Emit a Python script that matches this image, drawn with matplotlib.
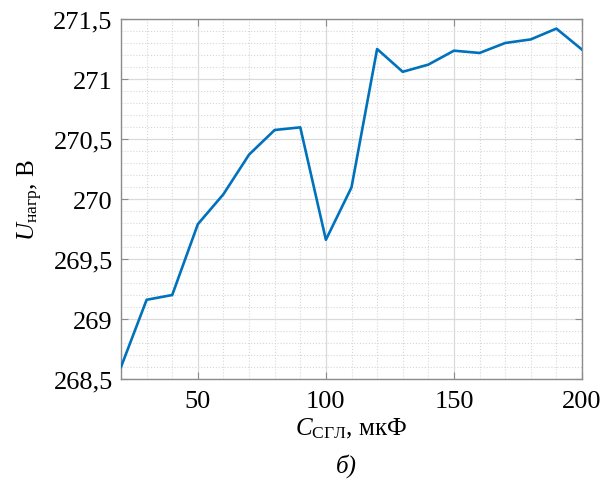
import matplotlib
matplotlib.use("Agg")
import matplotlib.pyplot as plt
from matplotlib.ticker import MultipleLocator, FuncFormatter

plt.rcParams['font.family'] = ['Liberation Serif', 'DejaVu Serif']
plt.rcParams['mathtext.fontset'] = 'custom'
plt.rcParams['mathtext.rm'] = 'Liberation Serif'
plt.rcParams['mathtext.it'] = 'Liberation Serif:italic'

c_vals = [20, 30, 40, 50, 60, 70, 80, 90, 100, 110, 120, 130, 140, 150, 160, 170, 180, 190, 200]
u_vals = [268.60, 269.16, 269.20, 269.79, 270.04, 270.37, 270.575, 270.597, 269.66, 270.097,
          271.25, 271.06, 271.12, 271.236, 271.217, 271.30, 271.33, 271.42, 271.245]
x_ticks = [50, 100, 150, 200]
y_ticks = [268.5, 269, 269.5, 270, 270.5, 271, 271.5]

fig = plt.figure(figsize=(6.09, 5.02), dpi=100)
ax = fig.add_axes([121/609, 1-380/502, 461/609, 360/502])

ax.plot(c_vals, u_vals, color='#0072BD', lw=1.9, zorder=3)
ax.set_xlim(20, 200)
ax.set_ylim(268.5, 271.5)
ax.set_xticks(x_ticks)
ax.set_yticks(y_ticks)
ax.xaxis.set_minor_locator(MultipleLocator(10))
ax.yaxis.set_minor_locator(MultipleLocator(0.1))

def fmt(v, pos):
    return ('%g' % v).replace('.', ',')
ax.yaxis.set_major_formatter(FuncFormatter(fmt))

ax.grid(which='major', color='#dadada', lw=0.9, ls='-')
ax.grid(which='minor', color='#d6d6d6', lw=0.8, ls=':')
ax.set_axisbelow(True)

for s in ax.spines.values():
    s.set_color('#8c8c8c')
    s.set_linewidth(1.0)
ax.tick_params(which='both', direction='in', top=True, right=True, colors='#8c8c8c',
               labelcolor='black', labelsize=19)
ax.tick_params(which='major', length=5)
ax.tick_params(which='minor', length=0)
ax.tick_params(axis='x', pad=8)
ax.tick_params(axis='y', pad=6)

ax.set_xlabel(r'$C_{\mathrm{СГЛ}}$, мкФ', fontsize=18, labelpad=3)
ax.set_ylabel(r'$U_{\mathrm{нагр}}$, В', fontsize=18, labelpad=6)

fig.text(346/609, 1-466/502, 'б)', fontsize=18, style='italic', ha='center', va='center')

fig.savefig('out.png', dpi=100)
